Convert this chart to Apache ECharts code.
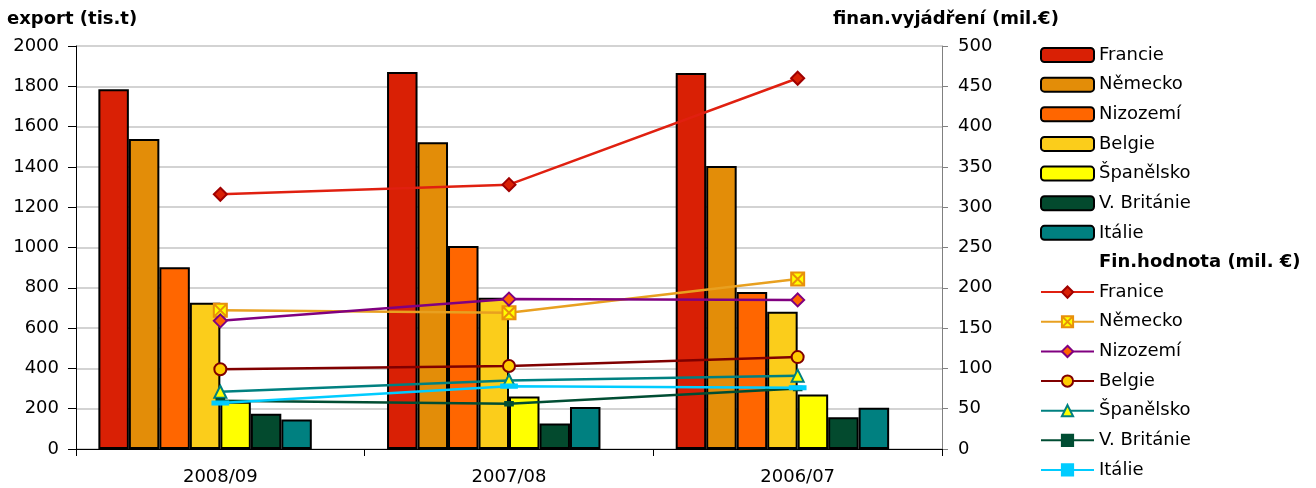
<!DOCTYPE html>
<html><head><meta charset="utf-8">
<script src="https://cdn.jsdelivr.net/npm/echarts@6/dist/echarts.min.js"></script>
<style>html,body{margin:0;padding:0;background:#fff}#c{width:1316px;height:488px}</style>
</head><body><div id="c"></div>
<script>
const categories = ['2008/09', '2007/08', '2006/07'];
const leftTicks = [0, 2000, 200];
const rightTicks = [0, 500, 50];

const exportFrancie = [1785, 1871, 1866];
const exportNemecko = [1538, 1522, 1404];
const exportNizozemi = [902, 1007, 779];
const exportBelgie = [726, 751, 681];
const exportSpanelsko = [235, 260, 270];
const exportBritanie = [175, 127, 157];
const exportItalie = [147, 208, 205];

const finFrancie = [316, 328, 460];
const finNemecko = [172, 169, 211];
const finNizozemi = [159, 186, 185];
const finBelgie = [99, 103, 114];
const finSpanelsko = [71, 85, 91];
const finBritanie = [60, 56, 75];
const finItalie = [57, 78, 76];

const FONT = '"DejaVu Sans", Verdana, sans-serif';
const FS = 18;
const chart = echarts.init(document.getElementById('c'), null, {renderer: 'canvas'});

function bar(name, data, color) {
  return {type: 'bar', name, data, yAxisIndex: 0, barGap: '0%', barCategoryGap: '15.5%',
    itemStyle: {color, borderColor: '#000', borderWidth: 2}, emphasis: {disabled: true}};
}
function line(name, data, color, symbol, size, fill, border, extra) {
  return Object.assign({type: 'line', name, data, yAxisIndex: 1, symbol, symbolSize: size,
    lineStyle: {color, width: 2.5}, itemStyle: {color: fill, borderColor: border, borderWidth: 2},
    z: 5, emphasis: {disabled: true}}, extra || {});
}
const xPath = 'path://M0,0L10,0L10,10L0,10Z M0,0L10,10 M10,0L0,10';

const series = [
  bar('Francie', exportFrancie, '#D92005'),
  bar('Německo', exportNemecko, '#E38D08'),
  bar('Nizozemí', exportNizozemi, '#FF6600'),
  bar('Belgie', exportBelgie, '#FBCD1B'),
  bar('Španělsko', exportSpanelsko, '#FFFF00'),
  bar('V. Británie', exportBritanie, '#034A2E'),
  bar('Itálie', exportItalie, '#008080'),
  {type: 'bar', name: '__spacer', data: [null, null, null], barGap: '0%', barCategoryGap: '15.5%'},
  {type: 'line', name: 'Fin.hodnota (mil. €)', data: [], yAxisIndex: 1},
  line('Franice', finFrancie, '#E02010', 'diamond', 13, '#D92005', '#A00000'),
  line('Německo ', finNemecko, '#E8A020', xPath, 13, '#FFFF00', '#E8900A'),
  line('Nizozemí ', finNizozemi, '#800080', 'diamond', 13, '#FF6600', '#800080'),
  line('Belgie ', finBelgie, '#800000', 'circle', 12, '#FFCC00', '#800000'),
  line('Španělsko ', finSpanelsko, '#008080', 'triangle', 12, '#FFFF00', '#008080'),
  line('V. Británie ', finBritanie, '#004D33', 'rect', [7, 4], '#004D33', '#004D33'),
  line('Itálie ', finItalie, '#00CCFF', 'rect', [14, 4], '#00CCFF', '#00CCFF')
];

const legendNames = ['Francie','Německo','Nizozemí','Belgie','Španělsko','V. Británie','Itálie',
  'Fin.hodnota (mil. €)','Franice','Německo ','Nizozemí ','Belgie ','Španělsko ','V. Británie ','Itálie '];
const legendData = legendNames.map(n => n === 'Fin.hodnota (mil. €)'
  ? {name: n, icon: 'rect', itemStyle: {opacity: 0}, textStyle: {fontWeight: 'bold'}}
  : {name: n});

chart.setOption({
  animation: false,
  textStyle: {fontFamily: FONT},
  title: [
    {text: 'export (tis.t)', left: 7, top: 10, padding: 0,
      textStyle: {fontFamily: FONT, fontSize: FS, fontWeight: 'bold', color: '#000'}},
    {text: 'finan.vyjádření (mil.€)', left: 833, top: 10, padding: 0,
      textStyle: {fontFamily: FONT, fontSize: FS, fontWeight: 'bold', color: '#000'}}
  ],
  legend: {
    orient: 'vertical', left: 1040, top: 46, padding: 0,
    itemWidth: 53, itemHeight: 14, itemGap: 11.64,
    selectedMode: false,
    textStyle: {fontFamily: FONT, fontSize: FS, color: '#000', lineHeight: 18},
    data: legendData
  },
  grid: {left: 76, right: 374, top: 46, bottom: 39, containLabel: false},
  xAxis: {
    type: 'category', data: categories,
    axisLine: {lineStyle: {color: '#000', width: 1}},
    axisTick: {show: true, length: 7, lineStyle: {color: '#000'}},
    axisLabel: {color: '#000', fontSize: FS, fontFamily: FONT, margin: 19}
  },
  yAxis: [
    {type: 'value', min: leftTicks[0], max: leftTicks[1], interval: leftTicks[2],
      axisLine: {show: true, lineStyle: {color: '#000'}},
      axisTick: {show: true, length: 8, lineStyle: {color: '#000'}},
      axisLabel: {color: '#000', fontSize: FS, fontFamily: FONT, margin: 17, formatter: v => String(v)},
      splitLine: {show: true, lineStyle: {color: '#C4C4C4', width: 1.5}}},
    {type: 'value', min: rightTicks[0], max: rightTicks[1], interval: rightTicks[2], position: 'right',
      axisLine: {show: true, lineStyle: {color: '#808080'}},
      axisTick: {show: true, length: 6, lineStyle: {color: '#808080'}},
      axisLabel: {color: '#000', fontSize: FS, fontFamily: FONT, margin: 16, formatter: v => String(v)},
      splitLine: {show: false}}
  ],
  series
});
</script></body></html>
